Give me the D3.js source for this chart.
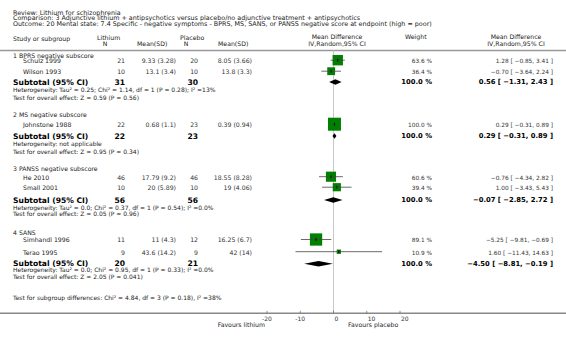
<!DOCTYPE html>
<html lang="en">
<head>
<meta charset="UTF-8">
<title>Lithium for schizophrenia - forest plot</title>
<script src="https://d3js.org/d3.v7.min.js"></script>
<style>
  body { margin: 0; background: #fff; }
  svg text { font-family: "DejaVu Sans", sans-serif; }
</style>
</head>
<body>
<div id="chart"></div>
<script>
// ---- data ----
const headerLines = [
  "Review:  Lithium for schizophrenia",
  "Comparison:  3 Adjunctive lithium + antipsychotics versus placebo/no adjunctive treatment + antipsychotics",
  "Outcome:  20 Mental state: 7.4 Specific - negative symptoms - BPRS, MS, SANS, or PANSS negative score at endpoint (high = poor)"
];
const groupNames = ["1 BPRS negative subscore", "2 MS negative subscore", "3 PANSS negative subscore", "4 SANS"];
const studyNames = ["Schulz 1999", "Wilson 1993", "Johnstone 1988", "He 2010", "Small 2001", "Simhandl 1996", "Terao 1995"];
const studyGroup = [0, 0, 1, 2, 2, 3, 3];
const lithN = [21, 10, 22, 46, 10, 11, 9];
const lithMeanSD = ["9.33 (3.28)", "13.1 (3.4)", "0.68 (1.1)", "17.79 (9.2)", "20 (5.89)", "11 (4.3)", "43.6 (14.2)"];
const placN = [20, 10, 23, 46, 10, 12, 9];
const placMeanSD = ["8.05 (3.66)", "13.8 (3.3)", "0.39 (0.94)", "18.55 (8.28)", "19 (4.06)", "16.25 (6.7)", "42 (14)"];
const weights = [63.6, 36.4, 100.0, 60.6, 39.4, 89.1, 10.9];
const md = [1.28, -0.70, 0.29, -0.76, 1.00, -5.25, 1.60];
const ciLow = [-0.85, -3.64, -0.31, -4.34, -3.43, -9.81, -11.43];
const ciHigh = [3.41, 2.24, 0.89, 2.82, 5.43, -0.69, 14.63];

const subN1 = [31, 22, 56, 20];
const subN2 = [30, 23, 56, 21];
const subMd = [0.56, 0.29, -0.07, -4.50];
const subLow = [-1.31, -0.31, -2.85, -8.81];
const subHigh = [2.43, 0.89, 2.72, -0.19];
const hetText = [
  "Heterogeneity: Tau\u00b2 = 0.25; Chi\u00b2 = 1.14, df = 1 (P = 0.28); I\u00b2 =13%",
  "Heterogeneity: not applicable",
  "Heterogeneity: Tau\u00b2 = 0.0; Chi\u00b2 = 0.37, df = 1 (P = 0.54); I\u00b2 =0.0%",
  "Heterogeneity: Tau\u00b2 = 0.0; Chi\u00b2 = 0.95, df = 1 (P = 0.33); I\u00b2 =0.0%"
];
const testText = [
  "Test for overall effect: Z = 0.59 (P = 0.56)",
  "Test for overall effect: Z = 0.95 (P = 0.34)",
  "Test for overall effect: Z = 0.05 (P = 0.96)",
  "Test for overall effect: Z = 2.05 (P = 0.041)"
];
const subgroupTest = "Test for subgroup differences: Chi\u00b2 = 4.84, df = 3 (P = 0.18), I\u00b2 =38%";
const axisTicks = [-20, -10, 0, 10, 20];
const favoursLeft = "Favours lithium";
const favoursRight = "Favours placebo";

// ---- layout ----
const W = 566, H = 337;
const rowY = {
  group: [55.5, 115, 169.3, 233],
  study: [61, 72, 125, 177.5, 188, 240.3, 252.5],
  sub: [82, 136, 200, 263.7],
  het: [90, 144, 207.7, 270.3],
  test: [98, 151.5, 214.3, 276.5]
};
const axisY = 313.3;
const fmt = d3.format(".2f");

const svg = d3.select("#chart").append("svg")
  .attr("width", W).attr("height", H);

const x = d3.scaleLinear().domain([-20, 20]).range([267, 400]);

function txt(g, s, xx, yy, opts = {}) {
  return g.append("text")
    .attr("x", xx).attr("y", yy).attr("dy", "0.35em")
    .attr("font-size", opts.size || 6)
    .attr("font-weight", opts.bold ? "bold" : null)
    .attr("text-anchor", opts.anchor || "start")
    .attr("fill", opts.fill || "#222")
    .text(s);
}

// header
headerLines.forEach((s, i) => txt(svg, s, 13, 12.7 + i * 5.5, { size: 6.4 }));

txt(svg, "Study or subgroup", 13, 39.3, { size: 6.2 });
txt(svg, "Lithium", 97, 38.3, { size: 6.2 });
txt(svg, "N", 105, 43.6, { size: 6.2, anchor: "middle" });
txt(svg, "Mean(SD)", 137, 43.6, { size: 6.2 });
txt(svg, "Placebo", 180, 38.3, { size: 6.2 });
txt(svg, "N", 186, 43.6, { size: 6.2, anchor: "middle" });
txt(svg, "Mean(SD)", 218, 43.6, { size: 6.2 });
txt(svg, "Mean Difference", 337, 37, { size: 6.2, anchor: "middle" });
txt(svg, "IV,Random,95% CI", 337, 44, { size: 6.2, anchor: "middle" });
txt(svg, "Weight", 405, 37.3, { size: 6.2 });
txt(svg, "Mean Difference", 516, 37, { size: 6.2, anchor: "middle" });
txt(svg, "IV,Random,95% CI", 516, 44, { size: 6.2, anchor: "middle" });

// header rule
svg.append("line").attr("x1", 0).attr("x2", W).attr("y1", 50.5).attr("y2", 50.5)
  .attr("stroke", "#999").attr("stroke-width", 1.3);

// zero line
svg.append("line").attr("x1", x(0)).attr("x2", x(0)).attr("y1", 50.5).attr("y2", axisY)
  .attr("stroke", "#c8c8c8").attr("stroke-width", 1);

// groups
groupNames.forEach((g, i) => {
  txt(svg, g, 13, rowY.group[i], { size: 6.2 });
  txt(svg, "Subtotal (95% CI)", 13, rowY.sub[i], { size: 7.6, bold: true, fill: "#000" });
  txt(svg, subN1[i], 125, rowY.sub[i], { size: 7.6, bold: true, anchor: "end", fill: "#000" });
  txt(svg, subN2[i], 198, rowY.sub[i], { size: 7.6, bold: true, anchor: "end", fill: "#000" });
  txt(svg, "100.0 %", 432, rowY.sub[i], { size: 6.8, bold: true, anchor: "end", fill: "#000" });
  txt(svg, fmt(subMd[i]) + " [ " + fmt(subLow[i]) + ", " + fmt(subHigh[i]) + " ]", 553, rowY.sub[i],
    { size: 6.8, bold: true, anchor: "end", fill: "#000" });
  txt(svg, hetText[i], 13, rowY.het[i], { size: 6 });
  txt(svg, testText[i], 13, rowY.test[i], { size: 6 });

  const yc = rowY.sub[i], h = 2.8;
  svg.append("path")
    .attr("d", d3.line()([[x(subLow[i]), yc], [x(subMd[i]), yc - h], [x(subHigh[i]), yc], [x(subMd[i]), yc + h]]) + "Z")
    .attr("fill", "#000");
});

// studies
studyNames.forEach((s, i) => {
  const y = rowY.study[i];
  txt(svg, s, 23, y, { size: 6.2 });
  txt(svg, lithN[i], 125, y, { size: 6.2, anchor: "end", fill: "#333" });
  txt(svg, lithMeanSD[i], 176, y, { size: 6.2, anchor: "end", fill: "#333" });
  txt(svg, placN[i], 198, y, { size: 6.2, anchor: "end", fill: "#333" });
  txt(svg, placMeanSD[i], 252, y, { size: 6.2, anchor: "end", fill: "#333" });
  txt(svg, weights[i].toFixed(1) + " %", 432, y, { size: 5.8, anchor: "end", fill: "#333" });
  txt(svg, fmt(md[i]) + " [ " + fmt(ciLow[i]) + ", " + fmt(ciHigh[i]) + " ]", 553, y,
    { size: 5.8, anchor: "end", fill: "#333" });

  const yc = y - 0.8;
  const sz = 1.3 * Math.sqrt(weights[i]);
  svg.append("rect")
    .attr("x", x(md[i]) - sz / 2).attr("y", yc - sz / 2)
    .attr("width", sz).attr("height", sz)
    .attr("fill", "#008000");
  svg.append("line")
    .attr("x1", x(ciLow[i])).attr("x2", x(ciHigh[i])).attr("y1", yc).attr("y2", yc)
    .attr("stroke", "#444").attr("stroke-width", 0.8);
  svg.append("line")
    .attr("x1", x(md[i])).attr("x2", x(md[i])).attr("y1", yc - 1.5).attr("y2", yc + 1.5)
    .attr("stroke", "#000").attr("stroke-width", 0.8);
});

txt(svg, subgroupTest, 13, 298.3, { size: 6 });

// axis
svg.append("line").attr("x1", 0).attr("x2", W).attr("y1", axisY).attr("y2", axisY)
  .attr("stroke", "#888").attr("stroke-width", 1.4);
const ax = svg.append("g");
axisTicks.forEach(t => {
  ax.append("line").attr("x1", x(t)).attr("x2", x(t)).attr("y1", axisY - 2.5).attr("y2", axisY)
    .attr("stroke", "#666").attr("stroke-width", 0.7);
  txt(ax, t, x(t), 318.5, { size: 6, anchor: t < 0 ? "middle" : "start", fill: "#333" })
    .attr("dx", t < 0 ? 0 : 1);
});
txt(svg, favoursLeft, 265, 324.5, { size: 6.2, anchor: "end" });
txt(svg, favoursRight, 348, 324.5, { size: 6.2 });
</script>
</body>
</html>
